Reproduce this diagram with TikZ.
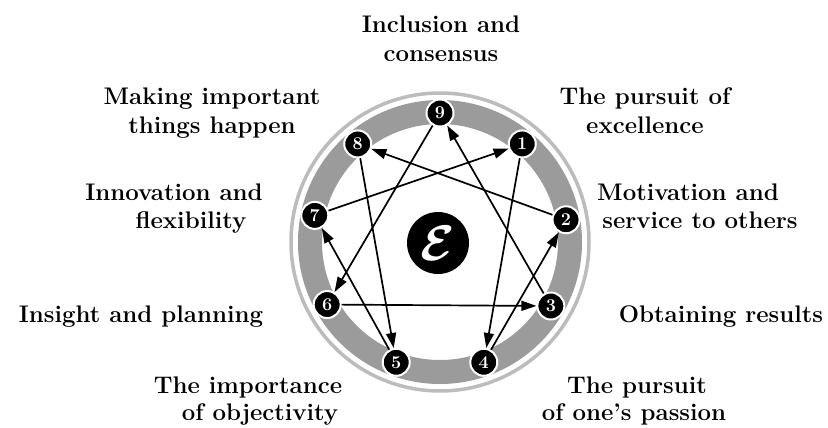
\documentclass[tikz,border=0pt]{standalone}
\usepackage{fontspec}
\usetikzlibrary{arrows.meta}
\definecolor{bandgray}{RGB}{155,155,155}
\definecolor{ringgray}{RGB}{188,188,188}
\begin{document}
\begin{tikzpicture}[x=1pt,y=-1pt,
  lbl/.style={font=\fontsize{24}{28}\selectfont\bfseries, anchor=base, inner sep=0pt},
  num/.style={circle, fill=black, draw=white, line width=2pt, minimum size=27pt, inner sep=0pt,
    text=white, font=\fontsize{18}{18}\selectfont\bfseries},
  arr/.style={line width=1.7pt, -{Triangle[length=15pt,width=10pt]}}]
\useasboundingbox (0,0) rectangle (828,428);
\fill[white] (0,0) rectangle (828,428);
\coordinate (c) at (440,242);
% rings
\draw[ringgray, line width=3.5pt] (c) circle[radius=149];
\draw[bandgray, line width=24pt] (c) circle[radius=130];
% centre
\node[circle, fill=black, minimum size=62pt, inner sep=0pt, text=white] (E) at (438,243)
  {\scalebox{5}{\boldmath$\mathcal{E}$}};
% numbered points
\node[num] (n9) at ([shift={(-90:129)}]c) {9};
\node[num] (n1) at ([shift={(-50:128)}]c) {1};
\node[num] (n2) at ([shift={(-10:128)}]c) {2};
\node[num] (n3) at ([shift={(30:128)}]c) {3};
\node[num] (n4) at ([shift={(70:128)}]c) {4};
\node[num] (n5) at ([shift={(110:128)}]c) {5};
\node[num] (n6) at ([shift={(151:129)}]c) {6};
\node[num] (n7) at ([shift={(-168:128)}]c) {7};
\node[num] (n8) at ([shift={(-130:128)}]c) {8};
% arrows
\draw[arr] (n9) -- (n6);
\draw[arr] (n6) -- (n3);
\draw[arr] (n3) -- (n9);
\draw[arr] (n1) -- (n4);
\draw[arr] (n4) -- (n2);
\draw[arr] (n2) -- (n8);
\draw[arr] (n8) -- (n5);
\draw[arr] (n5) -- (n7);
\draw[arr] (n7) -- (n1);
% labels
\node[lbl] (inc1) at (441,33) {Inclusion and};
\node[lbl] (inc2) at (441,62) {consensus};
\node[lbl] (mak1) at (212,105) {Making important};
\node[lbl] (mak2) at (212,133) {things happen};
\node[lbl] (inn1) at (174,200) {Innovation and};
\node[lbl] (inn2) at (191,228) {flexibility};
\node[lbl] (ins) at (141,322) {Insight and planning};
\node[lbl] (imp1) at (248,393) {The importance};
\node[lbl] (imp2) at (260,420) {of objectivity};
\node[lbl] (pur1) at (645,105) {The pursuit of};
\node[lbl] (pur2) at (645,133) {excellence};
\node[lbl] (mot1) at (688,200) {Motivation and};
\node[lbl] (mot2) at (700,228) {service to others};
\node[lbl] (obt) at (721,322) {Obtaining results};
\node[lbl] (pas1) at (637,393) {The pursuit};
\node[lbl] (pas2) at (634,420) {of one’s passion};
\end{tikzpicture}
\end{document}
